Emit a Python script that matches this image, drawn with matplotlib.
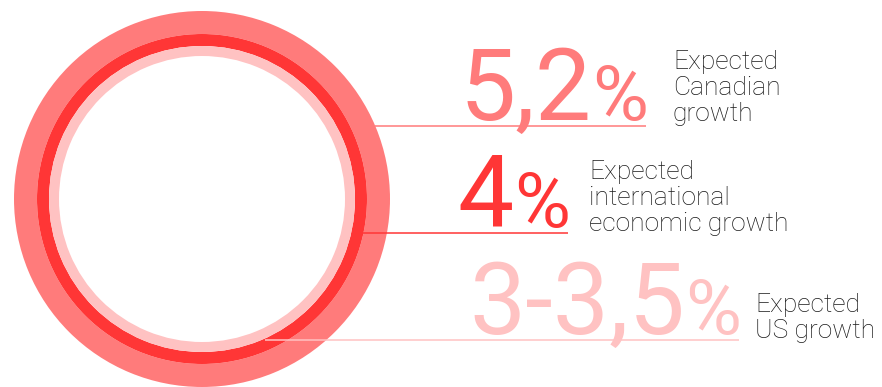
import matplotlib.pyplot as plt
from matplotlib.patches import Wedge

# data
values = ['5,2', '4', '3-3,5']
descriptions = ['Expected\nCanadian\ngrowth',
                'Expected\ninternational\neconomic growth',
                'Expected\nUS growth']
colors = ['#FF7B7B', '#FF3636', '#FFC2C2']

# layout (pixels)
cx, cy = 202, 199
rings = [(188, 23), (165, 12), (153, 10)]   # outer radius, width
line_y = [126, 233, 340]
line_x0 = [375, 362, 265]
line_x1 = [646, 568, 739]
label_x = [673, 589, 755]
label_base = [121, 231, 338]   # baseline of last label line

fig = plt.figure(figsize=(8.82, 3.87), dpi=100)
ax = fig.add_axes([0, 0, 1, 1])
ax.set_xlim(0, 882)
ax.set_ylim(387, 0)
ax.axis('off')

for (r, w), c in zip(rings, colors):
    ax.add_patch(Wedge((cx, cy), r, 0, 360, width=w, color=c, lw=0))

big_font = ['Roboto', 'DejaVu Sans']
for i in range(3):
    ax.plot([line_x0[i], line_x1[i]], [line_y[i], line_y[i]],
            color=colors[i], lw=1.1, solid_capstyle='butt')
    ax.text(line_x1[i] + 2, line_y[i] - 6, '%', color=colors[i], fontsize=55,
            family=big_font, ha='right', va='baseline')
    ax.text(line_x1[i] - 54, line_y[i] - 6, values[i], color=colors[i],
            fontsize=72, family=big_font, ha='right', va='baseline')
    ax.text(label_x[i], label_base[i], descriptions[i], color='#1a1a1a',
            fontsize=19, family=['Roboto', 'DejaVu Sans'], fontweight='light',
            ha='left', va='baseline', linespacing=1.1)

fig.savefig('out.png', dpi=100, facecolor='white')
